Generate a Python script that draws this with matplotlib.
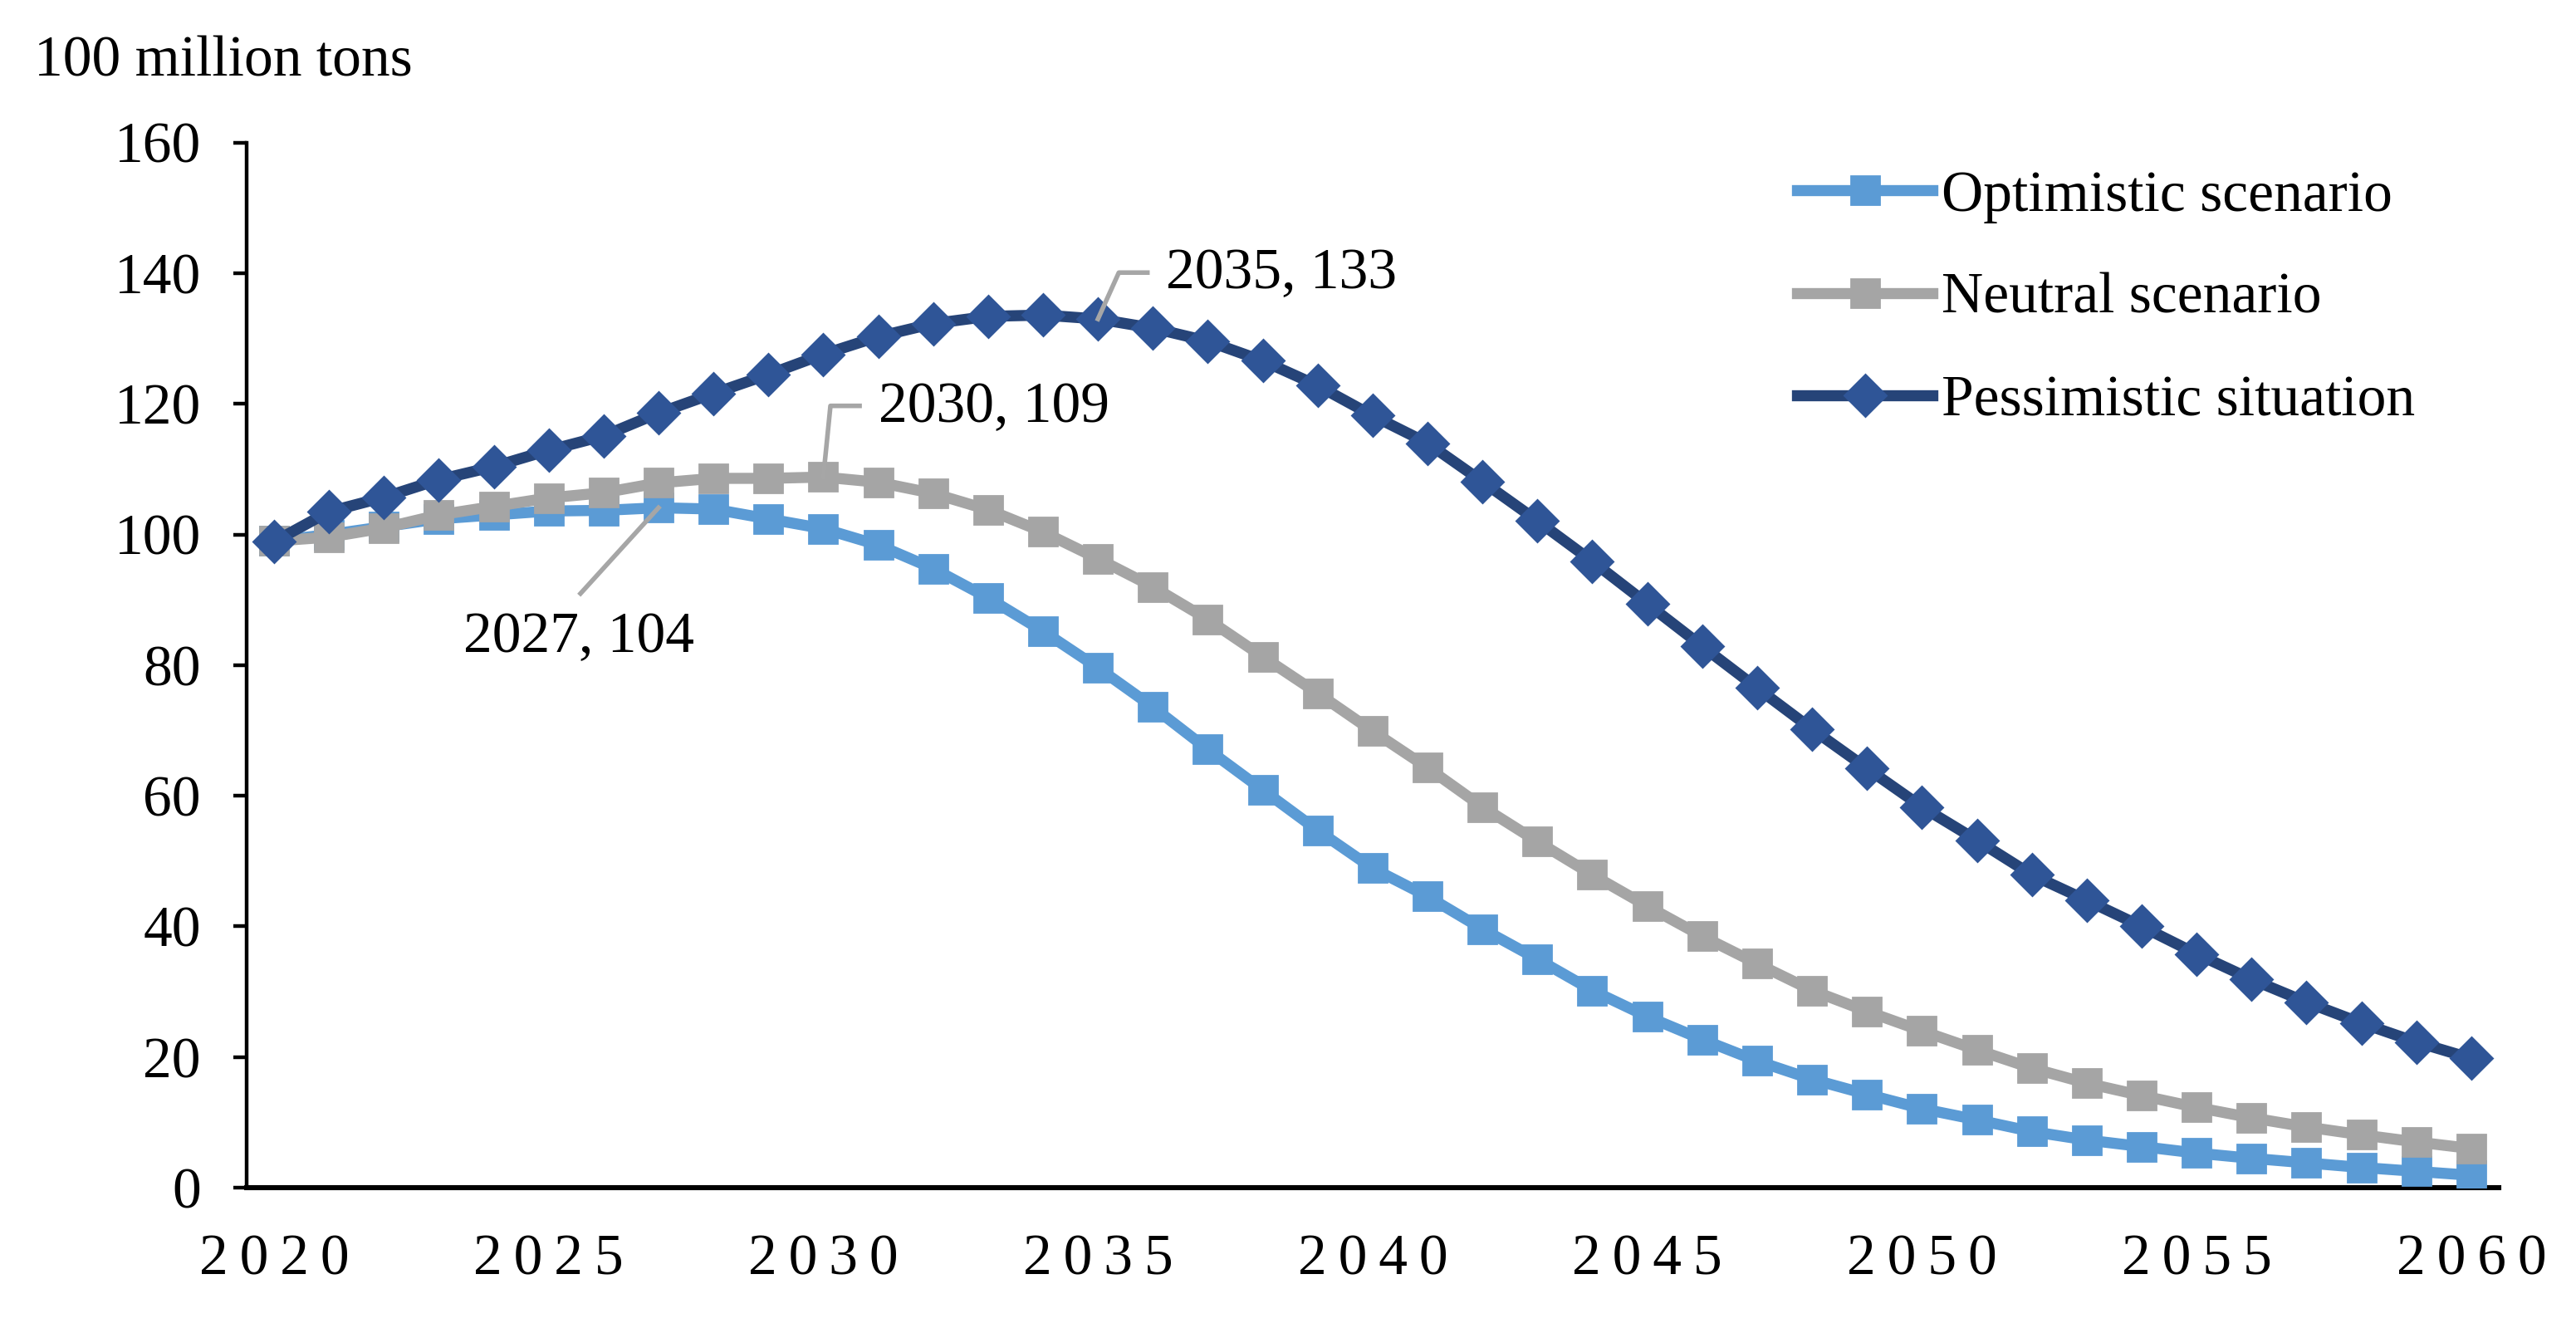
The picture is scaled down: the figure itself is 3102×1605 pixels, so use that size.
import numpy as np
import matplotlib.pyplot as plt

plt.rcParams['font.family'] = ['Liberation Serif', 'DejaVu Serif']
plt.rcParams['font.size'] = 25

# data (100 million tons)
years = np.arange(2020, 2061)
optimistic = [99.0, 100.0, 101.2, 102.4, 103.0, 103.6, 103.7, 104.1, 103.9, 102.4,
              100.9, 98.4, 94.8, 90.3, 85.2, 79.6, 73.6, 67.1, 60.9, 54.7,
              48.9, 44.6, 39.6, 35.0, 30.2, 26.2, 22.7, 19.4, 16.6, 14.3,
              12.1, 10.4, 8.6, 7.3, 6.3, 5.3, 4.5, 3.8, 3.1, 2.5, 1.9]
neutral = [99.0, 99.6, 101.0, 103.0, 104.3, 105.6, 106.4, 107.9, 108.6, 108.6,
           108.8, 108.0, 106.3, 103.8, 100.4, 96.3, 92.0, 87.0, 81.3, 75.7,
           69.9, 64.3, 58.3, 53.0, 47.9, 43.1, 38.5, 34.3, 30.2, 27.0,
           24.0, 21.1, 18.3, 16.0, 14.1, 12.3, 10.7, 9.3, 8.1, 7.0, 6.0]
pessimistic = [98.9, 103.5, 105.7, 108.4, 110.4, 112.9, 115.1, 118.6, 121.6, 124.5,
               127.6, 130.3, 132.3, 133.4, 133.6, 133.0, 131.6, 129.6, 126.6, 122.8,
               118.2, 114.0, 108.1, 102.1, 95.9, 89.4, 82.9, 76.5, 70.2, 64.2,
               58.3, 53.2, 47.9, 44.0, 40.0, 35.8, 31.9, 28.4, 25.2, 22.3, 19.8]
labels = ["Optimistic scenario", "Neutral scenario", "Pessimistic situation"]

fig = plt.figure(figsize=(15.51, 8.025), dpi=200)
ax = fig.add_axes([0.0957, 0.109, 0.8743, 0.784])

ax.plot(years, optimistic, color='#5B9BD5', lw=4.8, marker='s', ms=12,
        mfc='#5B9BD5', mec='#5B9BD5', label=labels[0], zorder=3)
ax.plot(years, neutral, color='#A5A5A5', lw=4.8, marker='s', ms=12,
        mfc='#A5A5A5', mec='#A5A5A5', label=labels[1], zorder=4)
ax.plot(years, pessimistic, color='#264478', lw=4.8, marker='D', ms=12.5,
        mfc='#2F5597', mec='#2F5597', label=labels[2], zorder=5)

# data labels with leader lines
lead = '#A6A6A6'
i27 = 2027 - 2020
ax.plot([years[i27], 2025.58], [optimistic[i27], 90.97], color=lead, lw=2, zorder=6)
ax.text(2025.55, 84.1, f"{years[i27]}, {round(optimistic[i27])}", ha='center', va='center')

i30 = 2030 - 2020
ax.plot([years[i30], 2030.13, 2030.66], [neutral[i30], 119.7, 119.7], color=lead, lw=2, zorder=6)
ax.text(2031.0, 119.4, f"{years[i30]}, {round(neutral[i30])}", ha='left', va='center')

i35 = 2035 - 2020
ax.plot([years[i35], 2035.38, 2035.9], [pessimistic[i35], 140.1, 140.1], color=lead, lw=2, zorder=6)
ax.text(2036.23, 139.8, f"{years[i35]}, {round(pessimistic[i35])}", ha='left', va='center')

ax.set_xlim(2019.5, 2060.5)
ax.set_ylim(0, 160)
ax.set_yticks(np.arange(0, 161, 20))
ax.set_xticks(years[::5])
ax.set_xticklabels(['\u2009'.join(str(y)) for y in years[::5]])

for s in ['top', 'right']:
    ax.spines[s].set_visible(False)
ax.spines['left'].set_linewidth(1.6)
ax.spines['bottom'].set_linewidth(2.2)
ax.tick_params(axis='y', direction='out', length=5.8, width=1.6, pad=14)
ax.tick_params(axis='x', length=0, pad=20)

fig.text(0.0132, 0.9427, "100 million tons", ha='left', va='baseline')

ax.legend(loc='upper left', bbox_to_anchor=(0.6976, 0.8723), bbox_transform=fig.transFigure,
          frameon=False, borderpad=0, borderaxespad=0, handlelength=2.35,
          handletextpad=0.16, labelspacing=0.86, numpoints=1)

fig.savefig('out.png', dpi=200)
